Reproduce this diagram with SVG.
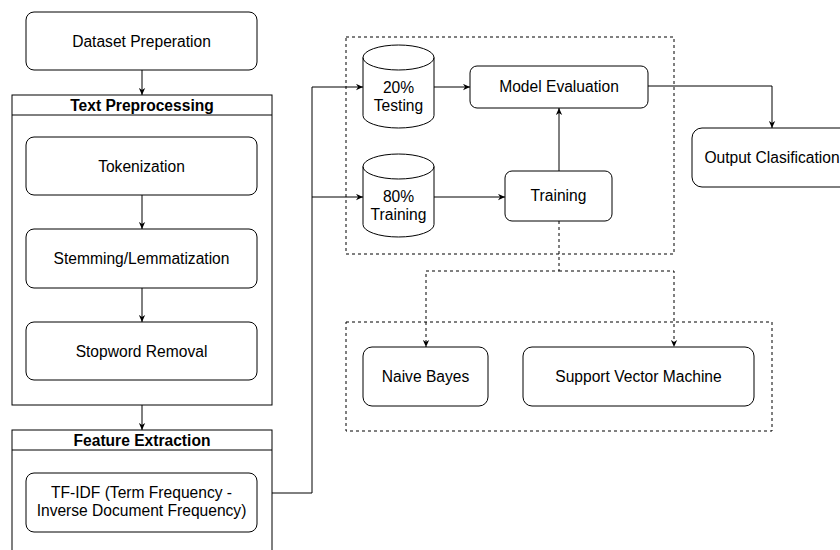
<svg xmlns="http://www.w3.org/2000/svg" width="840" height="550" viewBox="0 0 840 550">
<defs>
<style>
.box{fill:#fff;stroke:#000;stroke-width:1}
.cont{fill:#fff;stroke:#000;stroke-width:1}
.dash{fill:none;stroke:#000;stroke-width:1;stroke-dasharray:3 3}
.ln{fill:none;stroke:#000;stroke-width:1}
.t{font-family:"Liberation Sans",Arial,Helvetica,sans-serif;font-size:15.6px;fill:#000;text-anchor:middle}
.h{font-weight:bold}
</style>
<marker id="arr" viewBox="0 0 10 10" refX="10" refY="5" markerWidth="7" markerHeight="7" markerUnits="userSpaceOnUse" orient="auto">
<path d="M0,0.5 L10,5 L0,9.5 L3,5 Z" fill="#000"/>
</marker>
</defs>
<rect width="840" height="550" fill="#fff"/>

<g id="group-train" class="group">
<rect class="dash" x="346" y="37" width="328" height="217"/>
</g>
<g id="group-models" class="group">
<rect class="dash" x="346" y="322" width="426" height="109"/>
</g>

<g id="dataset">
<rect class="box" x="26" y="12" width="231" height="58" rx="8"/>
<text class="t" x="141.5" y="46.5">Dataset Preperation</text>
</g>

<g id="text-preprocessing">
<rect class="cont" x="12" y="95" width="260" height="310"/>
<line class="ln" x1="12" y1="115" x2="272" y2="115"/>
<text class="t h" x="142" y="110.5">Text Preprocessing</text>
</g>

<g id="tokenization">
<rect class="box" x="26" y="137" width="231" height="58" rx="8"/>
<text class="t" x="141.5" y="171.5">Tokenization</text>
</g>
<g id="stemming">
<rect class="box" x="26" y="229" width="231" height="59" rx="8"/>
<text class="t" x="141.5" y="263.5">Stemming/Lemmatization</text>
</g>
<g id="stopword">
<rect class="box" x="26" y="322" width="231" height="58" rx="8"/>
<text class="t" x="141.5" y="356.5">Stopword Removal</text>
</g>

<g id="feature-extraction">
<rect class="cont" x="12" y="430" width="260" height="140"/>
<line class="ln" x1="12" y1="450" x2="272" y2="450"/>
<text class="t h" x="142" y="445.5">Feature Extraction</text>
</g>
<g id="tfidf">
<rect class="box" x="26" y="473" width="231" height="59" rx="8"/>
<text class="t" x="141.5" y="498">TF-IDF (Term Frequency -</text>
<text class="t" x="141.5" y="516">Inverse Document Frequency)</text>
</g>

<g id="testing">
<path class="box" d="M363,57.5 A35.5,12.5 0 0 1 434,57.5 L434,115.5 A35.5,12.5 0 0 1 363,115.5 Z"/>
<path class="ln" d="M363,57.5 A35.5,12.5 0 0 0 434,57.5"/>
<text class="t" x="398.5" y="93">20%</text>
<text class="t" x="398.5" y="111">Testing</text>
</g>
<g id="training-data">
<path class="box" d="M363,166.5 A35.5,12.5 0 0 1 434,166.5 L434,224.5 A35.5,12.5 0 0 1 363,224.5 Z"/>
<path class="ln" d="M363,166.5 A35.5,12.5 0 0 0 434,166.5"/>
<text class="t" x="398.5" y="202">80%</text>
<text class="t" x="398.5" y="220">Training</text>
</g>

<g id="model-evaluation">
<rect class="box" x="470" y="66" width="178" height="42" rx="7"/>
<text class="t" x="559" y="91.5">Model Evaluation</text>
</g>
<g id="training">
<rect class="box" x="505" y="171" width="107" height="50" rx="7"/>
<text class="t" x="558.5" y="201">Training</text>
</g>
<g id="output">
<rect class="box" x="692" y="128" width="160" height="59" rx="10"/>
<text class="t" x="772" y="162.5">Output Clasification</text>
</g>
<g id="naive-bayes">
<rect class="box" x="363" y="347" width="125" height="59" rx="9"/>
<text class="t" x="425.5" y="382">Naive Bayes</text>
</g>
<g id="svm">
<rect class="box" x="523" y="347" width="231" height="59" rx="9"/>
<text class="t" x="638.5" y="382">Support Vector Machine</text>
</g>

<g id="connectors">
<line class="ln" x1="142" y1="70" x2="142" y2="95" marker-end="url(#arr)"/>
<line class="ln" x1="142" y1="195" x2="142" y2="229" marker-end="url(#arr)"/>
<line class="ln" x1="142" y1="288" x2="142" y2="322" marker-end="url(#arr)"/>
<line class="ln" x1="142" y1="405" x2="142" y2="430" marker-end="url(#arr)"/>
<polyline class="ln" points="272,493 312,493 312,87 363,87" marker-end="url(#arr)"/>
<polyline class="ln" points="312,197 363,197" marker-end="url(#arr)"/>
<line class="ln" x1="434" y1="87" x2="470" y2="87" marker-end="url(#arr)"/>
<line class="ln" x1="434" y1="197" x2="505" y2="197" marker-end="url(#arr)"/>
<line class="ln" x1="559" y1="171" x2="559" y2="108" marker-end="url(#arr)"/>
<polyline class="ln" points="648,86 772,86 772,128" marker-end="url(#arr)"/>
<polyline class="dash" points="559,221 559,271 426,271 426,347" marker-end="url(#arr)"/>
<polyline class="dash" points="559,271 674,271 674,347" marker-end="url(#arr)"/>
</g>
</svg>
